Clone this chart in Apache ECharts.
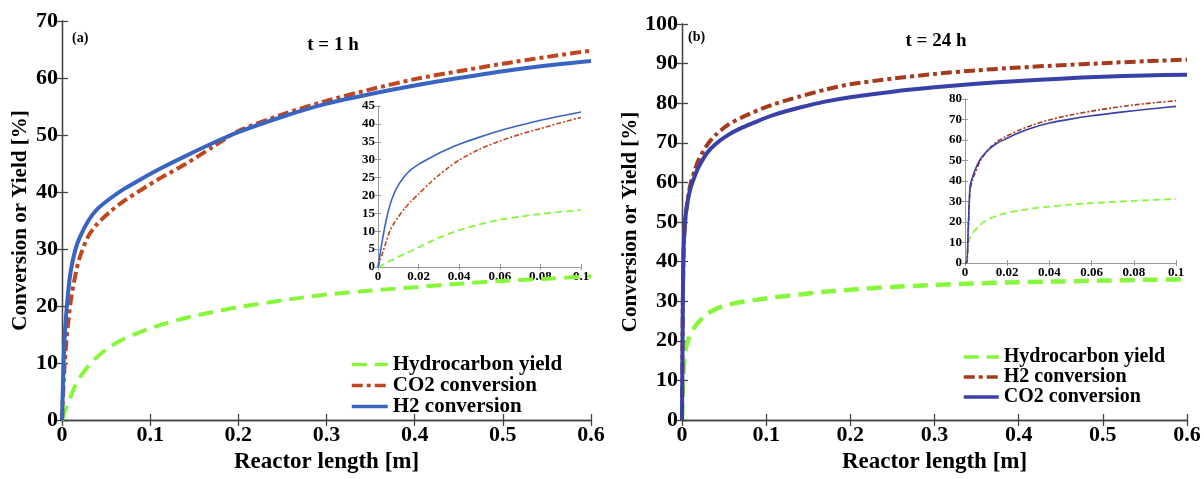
<!DOCTYPE html>
<html>
<head>
<meta charset="utf-8">
<script src="https://cdn.jsdelivr.net/npm/echarts@6/dist/echarts.min.js"></script>
<style>html,body{margin:0;padding:0;background:#fff}#c{width:1204px;height:479px}</style>
</head>
<body>
<div id="c"></div>
<script>
// ---------- Panel (a): t = 1 h ----------
const aX        = [0, 0.002, 0.004, 0.007, 0.01, 0.015, 0.02, 0.03, 0.04, 0.055, 0.07, 0.09, 0.11, 0.14, 0.17, 0.2, 0.25, 0.3, 0.35, 0.4, 0.45, 0.5, 0.55, 0.6];
const aHC       = [0, 0.8, 1.8, 3, 4.2, 6, 7.4, 9.5, 11.1, 12.9, 14.2, 15.5, 16.6, 17.9, 18.9, 19.8, 21, 22, 22.7, 23.3, 23.9, 24.4, 24.8, 25.2];
const aCO2      = [0, 7, 12, 17, 21, 25.3, 28.5, 32.3, 34.4, 36.6, 38.4, 40.4, 42.3, 44.9, 47.8, 50.7, 53.6, 56, 58, 59.8, 61.2, 62.5, 63.7, 64.8];
const aH2       = [0, 11, 17, 22.5, 26.2, 29.8, 32, 35, 37, 38.9, 40.5, 42.3, 44, 46.3, 48.5, 50.5, 53.2, 55.5, 57.2, 58.7, 60, 61.2, 62.2, 63];
// inset (a)
const aInX      = [0, 0.002, 0.004, 0.006, 0.008, 0.01, 0.013, 0.016, 0.02, 0.025, 0.03, 0.035, 0.04, 0.05, 0.06, 0.07, 0.08, 0.09, 0.1];
const aInHC     = [0, 0.5, 1.1, 1.7, 2.2, 2.8, 3.6, 4.4, 5.5, 6.9, 8.2, 9.3, 10.3, 11.9, 13.2, 14.1, 14.8, 15.4, 15.9];
const aInCO2    = [0, 3.5, 7, 10.3, 12.3, 14, 16.3, 18.2, 20.4, 23.2, 25.7, 27.9, 29.9, 32.9, 35.2, 37.1, 38.7, 40.3, 41.8];
const aInH2     = [0, 7, 13, 17.5, 20.6, 22.9, 25.3, 27.1, 28.7, 30.3, 31.8, 33.1, 34.3, 36.3, 38.1, 39.6, 41, 42.2, 43.3];

// ---------- Panel (b): t = 24 h ----------
const bX        = [0, 0.001, 0.002, 0.004, 0.007, 0.01, 0.015, 0.02, 0.03, 0.04, 0.055, 0.07, 0.09, 0.11, 0.14, 0.17, 0.2, 0.25, 0.3, 0.35, 0.4, 0.45, 0.5, 0.55, 0.6];
const bHC       = [0, 8, 13, 17.5, 20, 21.7, 23.5, 24.8, 26.8, 28, 29.1, 29.8, 30.4, 31, 31.7, 32.4, 32.9, 33.6, 34.1, 34.5, 34.8, 35, 35.2, 35.4, 35.5];
const bH2       = [0, 29, 43, 51, 56, 59.5, 63, 65.8, 69.5, 72, 74.6, 76.3, 78.2, 79.8, 81.7, 83.4, 84.8, 86.2, 87.4, 88.3, 89, 89.6, 90.1, 90.6, 91];
const bCO2      = [0, 30, 44, 51, 55.5, 58.5, 61.5, 64, 67.5, 69.7, 72, 73.7, 75.5, 77.1, 78.9, 80.4, 81.5, 82.9, 84, 84.9, 85.6, 86.2, 86.7, 87, 87.2];
// inset (b)
const bInX      = [0, 0.0008, 0.0016, 0.0024, 0.0036, 0.0048, 0.0071, 0.0095, 0.012, 0.015, 0.019, 0.025, 0.032, 0.04, 0.05, 0.06, 0.07, 0.08, 0.09, 0.1];
const bInHC     = [0, 0, 9.5, 12.5, 14.5, 16, 18.5, 20.5, 21.8, 23, 24.2, 25.5, 26.6, 27.5, 28.5, 29.2, 29.8, 30.3, 30.8, 31.2];
const bInH2     = [0, 0, 17, 35.5, 40.5, 44, 49.5, 53.3, 56.3, 59, 61.5, 64.5, 67.3, 69.8, 72.2, 74.1, 75.7, 77.1, 78.2, 79.2];
const bInCO2    = [0, 0, 19, 37.5, 42, 45.5, 50.4, 53.5, 56, 58.3, 60.4, 63.3, 66, 68.3, 70.2, 71.8, 73.1, 74.3, 75.4, 76.4];

// tick labels
const mainXTicks  = ['0', '0.1', '0.2', '0.3', '0.4', '0.5', '0.6'];
const insetXTicks = ['0', '0.02', '0.04', '0.06', '0.08', '0.1'];
const aYTicks     = ['0', '10', '20', '30', '40', '50', '60', '70'];
const aInYTicks   = ['0', '5', '10', '15', '20', '25', '30', '35', '40', '45'];
const bYTicks     = ['0', '10', '20', '30', '40', '50', '60', '70', '80', '90', '100'];
const bInYTicks   = ['0', '10', '20', '30', '40', '50', '60', '70', '80'];

const FONT = '"Liberation Serif", "Times New Roman", serif';
const pairs = (xs, ys) => xs.map((x, i) => [x, ys[i]]);

const grids = [
  { left: 62, top: 21, width: 529, height: 407 },     // 0 main a
  { left: 378, top: 106, width: 203, height: 161 },   // 1 inset a
  { left: 682, top: 24, width: 505, height: 400 },    // 2 main b
  { left: 965, top: 99, width: 211, height: 164 }     // 3 inset b
];

const xAxes = [], yAxes = [];
function addAxes(g, xt, xmax, xint, yt, ymax, yint, main, axColor) {
  const lab = main ? 22 : 13;
  const tickLen = main ? 6 : 3;
  const line = { show: true, lineStyle: { color: axColor, width: main ? 1.3 : 1 } };
  const tick = { show: true, inside: true, length: tickLen, lineStyle: { color: axColor, width: main ? 1.3 : 1 } };
  const labStyle = (arr, step) => ({ fontFamily: FONT, fontWeight: 'bold', fontSize: lab, color: '#000', margin: main ? 4 : 3,
                               formatter: (v) => arr[Math.round(v / step)] });
  xAxes.push({ type: 'value', gridIndex: g, min: 0, max: xmax, interval: xint, position: 'bottom',
    axisLine: line, axisTick: tick, splitLine: { show: false },
    axisLabel: labStyle(xt, xint),
    name: main ? 'Reactor length [m]' : '', nameLocation: 'middle', nameGap: 31,
    nameTextStyle: { fontFamily: FONT, fontWeight: 'bold', fontSize: 23, color: '#000' } });
  xAxes.push({ type: 'value', gridIndex: g, min: 0, max: xmax, interval: xint, position: 'top',
    axisLine: line, axisTick: tick, splitLine: { show: false }, axisLabel: { show: false } });
  yAxes.push({ type: 'value', gridIndex: g, min: 0, max: ymax, interval: yint, position: 'left',
    axisLine: line, axisTick: tick, splitLine: { show: false },
    axisLabel: labStyle(yt, yint),
    name: main ? 'Conversion or Yield [%]' : '', nameLocation: 'middle', nameGap: main ? (g === 0 ? 31 : 38) : 0, nameRotate: 90,
    nameTextStyle: { fontFamily: FONT, fontWeight: 'bold', fontSize: 21, color: '#000' } });
  yAxes.push({ type: 'value', gridIndex: g, min: 0, max: ymax, interval: yint, position: 'right',
    axisLine: line, axisTick: tick, splitLine: { show: false }, axisLabel: { show: false } });
}
addAxes(0, mainXTicks, 0.6, 0.1, aYTicks, 70, 10, true, '#444');
addAxes(1, insetXTicks, 0.1, 0.02, aInYTicks, 45, 5, false, '#999');
addAxes(2, mainXTicks, 0.6, 0.1, bYTicks, 100, 10, true, '#444');
addAxes(3, insetXTicks, 0.1, 0.02, bInYTicks, 80, 10, false, '#999');

const GREEN = '#86f73a', RED_A = '#c1461f', BLUE_A = '#3a64c2', RED_B = '#a33b1c', BLUE_B = '#3940a8';
function ser(name, gi, xs, ys, color, width, type) {
  return { name, type: 'line', xAxisIndex: gi * 2, yAxisIndex: gi * 2, data: pairs(xs, ys),
    symbol: 'none', smooth: 0.25, clip: true, animation: false,
    lineStyle: { color, width, type }, itemStyle: { color } };
}
const series = [
  ser('a:Hydrocarbon yield', 0, aX, aHC, GREEN, 4, [15, 8]),
  ser('a:CO2 conversion', 0, aX, aCO2, RED_A, 4, [11, 4, 4, 4]),
  ser('a:H2 conversion', 0, aX, aH2, BLUE_A, 4, 'solid'),
  ser('ia:hc', 1, aInX, aInHC, GREEN, 1.8, [7, 4]),
  ser('ia:co2', 1, aInX, aInCO2, RED_A, 1.6, [5, 2, 2, 2]),
  ser('ia:h2', 1, aInX, aInH2, BLUE_A, 1.6, 'solid'),
  ser('b:Hydrocarbon yield', 2, bX, bHC, GREEN, 4.5, [15, 8]),
  ser('b:H2 conversion', 2, bX, bH2, RED_B, 4, [11, 4, 4, 4]),
  ser('b:CO2 conversion', 2, bX, bCO2, BLUE_B, 4, 'solid'),
  ser('ib:hc', 3, bInX, bInHC, GREEN, 1.8, [7, 4]),
  ser('ib:h2', 3, bInX, bInH2, RED_B, 1.6, [5, 2, 2, 2]),
  ser('ib:co2', 3, bInX, bInCO2, BLUE_B, 1.6, 'solid')
];

const legendText = { fontFamily: FONT, fontWeight: 'bold', fontSize: 21, color: '#000' };
const legendBase = { orient: 'vertical', itemHeight: 14, itemGap: 0, padding: 0, selectedMode: false,
  itemStyle: { opacity: 0 }, lineStyle: { width: 3.5 }, formatter: n => n.slice(2) };
const chart = echarts.init(document.getElementById('c'), null, { renderer: 'canvas' });
chart.setOption({
  backgroundColor: '#fff',
  animation: false,
  grid: grids,
  xAxis: xAxes,
  yAxis: yAxes,
  series: series,
  legend: [
    Object.assign({}, legendBase, { data: ['a:Hydrocarbon yield', 'a:CO2 conversion', 'a:H2 conversion'],
      left: 350, top: 354, itemWidth: 36, textStyle: legendText }),
    Object.assign({}, legendBase, { data: ['b:Hydrocarbon yield', 'b:H2 conversion', 'b:CO2 conversion'],
      left: 962, top: 347, itemWidth: 35, textStyle: Object.assign({}, legendText, { fontSize: 20 }) })
  ],
  graphic: [
    { type: 'text', x: 72, y: 38, style: { text: '(a)', font: 'bold 14px ' + FONT, fill: '#000', textVerticalAlign: 'middle' } },
    { type: 'text', x: 333, y: 45, style: { text: 't = 1 h', font: 'bold 19px ' + FONT, fill: '#000', textAlign: 'center', textVerticalAlign: 'middle' } },
    { type: 'text', x: 688, y: 37, style: { text: '(b)', font: 'bold 14px ' + FONT, fill: '#000', textVerticalAlign: 'middle' } },
    { type: 'text', x: 936, y: 41, style: { text: 't = 24 h', font: 'bold 19px ' + FONT, fill: '#000', textAlign: 'center', textVerticalAlign: 'middle' } }
  ]
});
</script>
</body>
</html>
